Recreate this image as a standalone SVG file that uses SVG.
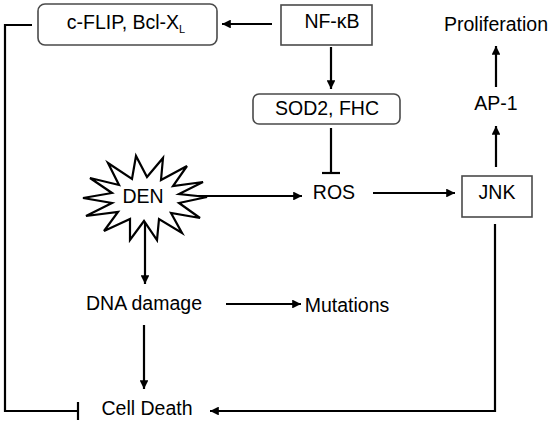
<svg xmlns="http://www.w3.org/2000/svg" width="555" height="425" viewBox="0 0 555 425">
<defs>
<marker id="ah" viewBox="0 0 10 10" refX="10" refY="5" markerWidth="4" markerHeight="4" orient="auto" markerUnits="strokeWidth">
<path d="M0,0 L10,5 L0,10 z" fill="#000"/>
</marker>
</defs>
<style>
.t{font-family:"Liberation Sans",Arial,sans-serif;font-size:19.5px;fill:#000;text-anchor:middle}
.box{fill:#fff;stroke:#4a4a4a;stroke-width:1.6}
.ln{fill:none;stroke:#000;stroke-width:2.2}
.arr{marker-end:url(#ah)}
</style>
<rect width="555" height="425" fill="#fff"/>
<g id="connectors">
<line class="ln arr" x1="272" y1="24" x2="222" y2="24"/>
<line class="ln arr" x1="331" y1="47" x2="331" y2="89"/>
<line class="ln" x1="331" y1="128" x2="331" y2="173"/>
<line class="ln" x1="322" y1="173" x2="340" y2="173"/>
<line class="ln arr" x1="185" y1="196" x2="302" y2="196"/>
<line class="ln arr" x1="373" y1="193" x2="455" y2="193"/>
<line class="ln arr" x1="496" y1="167" x2="496" y2="126"/>
<line class="ln arr" x1="496" y1="87" x2="496" y2="46"/>
<path class="ln arr" d="M495,224 V411 H210"/>
<line class="ln arr" x1="145" y1="222" x2="145" y2="284"/>
<line class="ln arr" x1="226" y1="304" x2="301" y2="304"/>
<line class="ln arr" x1="144" y1="325" x2="144" y2="389"/>
<path class="ln" d="M32,25 H5 V411 H78"/>
<line class="ln" x1="78" y1="402" x2="78" y2="420"/>
</g>
<g id="cflip">
<rect class="box" x="38" y="4" width="179" height="41" rx="7"/>
<text class="t" x="126" y="29">c-FLIP, Bcl-X<tspan font-size="11" dy="4">L</tspan></text>
</g>
<g id="nfkb">
<rect class="box" x="281" y="5" width="91" height="40"/>
<text class="t" x="332" y="28">NF-κB</text>
</g>
<g id="sod2">
<rect class="box" x="253" y="94" width="147" height="30" rx="6"/>
<text class="t" x="327" y="115">SOD2, FHC</text>
</g>
<g id="proliferation">
<text class="t" x="496" y="31">Proliferation</text>
</g>
<g id="ap1">
<text class="t" x="496" y="110">AP-1</text>
</g>
<g id="den">
<polygon fill="#fff" stroke="#000" stroke-width="2.2" stroke-linejoin="miter" points="207,197 179,203 200,218 171,213 182,233 159,219 157,240 144,221 130,240 130,219 104,231 118,212 86,216 112,203 83,198 112,193 90,178 119,185 108,163 132,179 136,156 147,177 163,158 161,180 187,166 173,186 203,182 179,194"/>
<text class="t" x="143" y="203">DEN</text>
</g>
<g id="ros">
<text class="t" x="334" y="199">ROS</text>
</g>
<g id="jnk">
<rect class="box" x="462" y="176" width="70" height="41"/>
<text class="t" x="497" y="199">JNK</text>
</g>
<g id="dna">
<text class="t" x="144" y="310">DNA damage</text>
</g>
<g id="mutations">
<text class="t" x="347" y="312">Mutations</text>
</g>
<g id="celldeath">
<text class="t" x="147" y="415">Cell Death</text>
</g>
</svg>
